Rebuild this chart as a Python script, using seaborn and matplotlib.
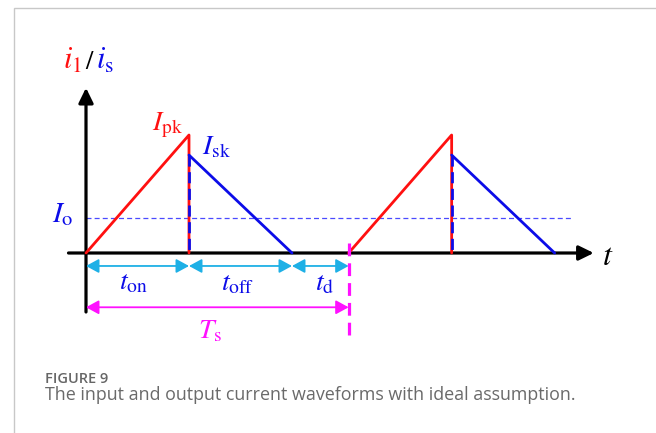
import numpy as np
import pandas as pd
import matplotlib
matplotlib.use("Agg")
import matplotlib.pyplot as plt
import seaborn as sns
from matplotlib.patches import Rectangle

sns.set_theme(style="white")
plt.rcParams["mathtext.fontset"] = "stix"
plt.rcParams["font.family"] = ["DejaVu Sans"]

# switching intervals (normalised to t_on)
t_on = 1.0
t_off = 1.0
t_d = 0.55
T_s = t_on + t_off + t_d
n_periods = 2

# current levels (normalised to I_pk)
I_pk = 1.0
I_sk = 0.83
I_o = 0.30

# extents of the drawn axes and of the average-current line
x_axis = (-0.17, 4.93)
y_axis = (-0.5, 1.40)
io_extent = (0.0, 4.73)

RED = "#ff1010"
BLUE = "#0c0ce8"
CYAN = "#1eb0e6"
MAGENTA = "#ff10ff"

# build waveform segments
rows_p, rows_s, rows_v = [], [], []
for k in range(n_periods):
    t0 = k * T_s
    seg = f"p{k}"
    rows_p += [(t0, 0.0, seg), (t0 + t_on, I_pk, seg), (t0 + t_on, 0.0, seg)]
    rows_s += [(t0 + t_on, I_sk, f"s{k}"), (t0 + t_on + t_off, 0.0, f"s{k}")]
    rows_v += [(t0 + t_on, I_sk, f"v{k}"), (t0 + t_on, 0.0, f"v{k}")]
primary = pd.DataFrame(rows_p, columns=["t", "i", "seg"])
secondary = pd.DataFrame(rows_s, columns=["t", "i", "seg"])
drop = pd.DataFrame(rows_v, columns=["t", "i", "seg"])

W, H = 656, 433
fig = plt.figure(figsize=(W / 100, H / 100), dpi=100)
fig.patch.set_facecolor("white")

# card outline
fig.patches.append(Rectangle((14 / W, -0.1), 1.2, (H - 7.5) / H + 0.1,
                             transform=fig.transFigure, fill=False,
                             edgecolor="#c8c8c8", lw=1.0))

# axes placed so that 1 time unit = 103 px and 1 current unit = 118 px
x0_px, y0_px, sx, sy = 86, 253, 103, 118
xlim = (-0.2, 5.2)
ylim = (-0.75, 1.55)
left = (x0_px + xlim[0] * sx) / W
width = (xlim[1] - xlim[0]) * sx / W
bottom = (H - (y0_px - ylim[0] * sy)) / H
height = (ylim[1] - ylim[0]) * sy / H
ax = fig.add_axes([left, bottom, width, height])
ax.set_xlim(*xlim)
ax.set_ylim(*ylim)
ax.axis("off")

# average output current
ax.plot(io_extent, [I_o, I_o], color="#4a4aff", lw=0.9, ls=(0, (4, 2.5)), zorder=2)

# coordinate axes with arrow heads
for xy, xytext in [((x_axis[1], 0), (x_axis[0], 0)), ((0, y_axis[1]), (0, y_axis[0]))]:
    ax.annotate("", xy=xy, xytext=xytext,
                arrowprops=dict(arrowstyle="-|>,head_length=0.45,head_width=0.22",
                                lw=2.3, color="black", mutation_scale=20,
                                shrinkA=0, shrinkB=0), zorder=3)

# waveforms
sns.lineplot(data=primary, x="t", y="i", units="seg", estimator=None, sort=False,
             color=RED, lw=2.0, ax=ax, zorder=4)
sns.lineplot(data=secondary, x="t", y="i", units="seg", estimator=None, sort=False,
             color=BLUE, lw=2.0, ax=ax, zorder=5)
sns.lineplot(data=drop, x="t", y="i", units="seg", estimator=None, sort=False,
             color=BLUE, lw=2.0, ax=ax, zorder=6, dashes=False)
for line in ax.lines[-n_periods:]:
    line.set_linestyle((0, (4, 2)))
ax.set_xlabel("")
ax.set_ylabel("")
ax.axis("off")

# end of switching period
ax.plot([T_s, T_s], [0.085, -0.70], color=MAGENTA, lw=2.3, ls=(0, (4, 2.2)), zorder=6)


def span(x_a, x_b, y, color, lw=1.3):
    ax.annotate("", xy=(x_b, y), xytext=(x_a, y),
                arrowprops=dict(arrowstyle="<|-|>,head_length=0.55,head_width=0.3",
                                lw=lw, color=color, mutation_scale=14,
                                shrinkA=0, shrinkB=0), zorder=5)


y_t = -0.11
span(0, t_on, y_t, CYAN)
span(t_on, t_on + t_off, y_t, CYAN)
span(t_on + t_off, T_s, y_t, CYAN)
span(0, T_s, -0.46, MAGENTA)

# labels
ax.text(5.07, -0.03, r"$t$", fontsize=23, color="black", ha="center", va="center")
y_lab = 1.56
ax.text(-0.22, y_lab, r"$i_{\rm 1}$", fontsize=22, color=RED, ha="left",
        va="baseline", clip_on=False)
ax.text(-0.01, y_lab, r"$/$", fontsize=19, color="black", ha="left", va="baseline",
        clip_on=False)
ax.text(0.10, y_lab, r"$i_{\rm s}$", fontsize=22, color=BLUE, ha="left", va="baseline",
        clip_on=False)
ax.text(0.79, 1.08, r"$I_{\rm pk}$", fontsize=20, color=RED, ha="center", va="center")
ax.text(1.27, 0.90, r"$I_{\rm sk}$", fontsize=20, color=BLUE, ha="center", va="center")
ax.text(-0.23, 0.33, r"$I_{\rm o}$", fontsize=21, color=BLUE, ha="center", va="center")
ax.text(0.46, -0.24, r"$t_{\rm on}$", fontsize=20, color=BLUE, ha="center", va="center")
ax.text(1.47, -0.25, r"$t_{\rm off}$", fontsize=20, color=BLUE, ha="center", va="center")
ax.text(2.32, -0.25, r"$t_{\rm d}$", fontsize=20, color=BLUE, ha="center", va="center")
ax.text(1.20, -0.66, r"$T_{\rm s}$", fontsize=20, color=MAGENTA, ha="center", va="center")

# caption
fig.text(45 / W, 1 - 379 / H, "FIGURE 9", fontsize=10.5, color="#666666",
         family=["Open Sans", "DejaVu Sans"], ha="left", va="center", weight="semibold")
fig.text(45 / W, 1 - 395 / H, "The input and output current waveforms with ideal assumption.",
         fontsize=12.9, color="#6a6a6a", family=["Open Sans", "DejaVu Sans"],
         ha="left", va="center")

fig.savefig("out.png", dpi=100, facecolor="white")
